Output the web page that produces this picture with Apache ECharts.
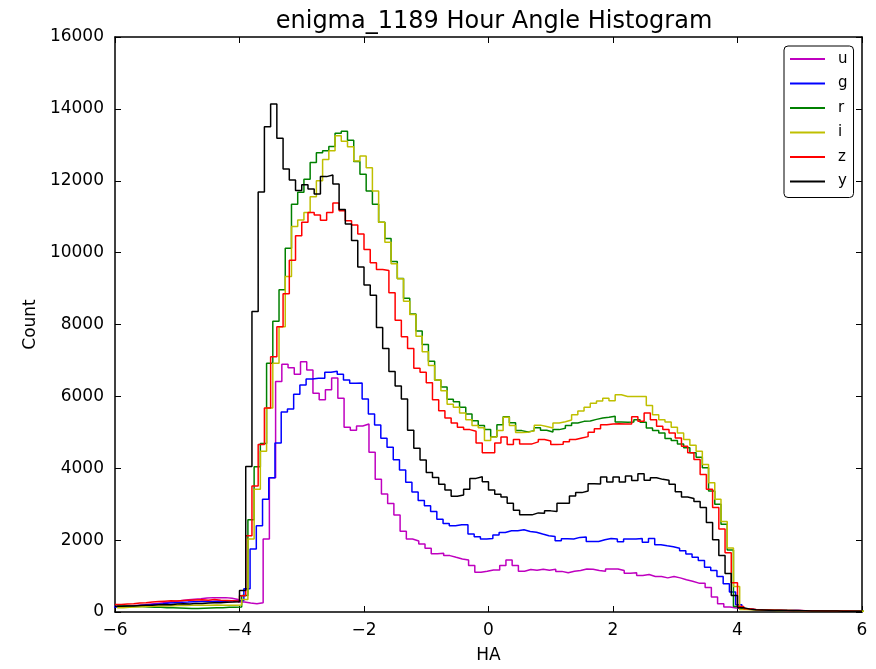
<!DOCTYPE html>
<html>
<head>
<meta charset="utf-8">
<script src="https://cdn.jsdelivr.net/npm/echarts@6/dist/echarts.min.js"></script>
<style>
html,body{margin:0;padding:0;background:#fff;}
#chart{width:876px;height:669px;}
</style>
</head>
<body>
<div id="chart"></div>
<script>
// Histogram bins: 120 bins of width 0.1 per filter; each filter has its own first edge
const BIN_WIDTH = 0.1;
const uStart = -6.02;
const gStart = -6.03;
const rStart = -5.965;
const iStart = -5.965;
const zStart = -6.0;
const yStart = -6.0;

const xTicks = [-6, -4, -2, 0, 2, 4, 6];
const yTicks = [0, 2000, 4000, 6000, 8000, 10000, 12000, 14000, 16000];

const uCounts = [150,160,175,190,200,220,240,260,280,300,320,340,355,370,390,400,395,400,385,350,
280,250,230,260,2030,3737,6412,6892,6800,6616,
6966,6736,6090,5905,6182,6510,5951,5139,5060,5176,
5231,4443,3691,3285,3017,2700,2250,2030,1975,1890,
1776,1624,1633,1569,1522,1476,1448,1292,1107,1135,
1171,1171,1292,1448,1292,1135,1181,1160,1190,1160,
1190,1130,1093,1135,1153,1199,1190,1153,1135,1199,
1199,1153,1079,1090,1015,1042,987,987,950,987,
950,895,858,803,800,680,420,230,140,110,
90,75,65,60,55,50,48,45,42,40,38,35,33,30,28,27,25,23,22,20];

const gCounts = [140,150,160,175,190,200,215,230,250,260,270,277,285,290,300,295,305,300,310,305,
323,646,1753,2399,3137,3737,4706,5564,5647,6062,
6320,6486,6505,6505,6671,6700,6616,6458,6366,6375,
5925,5508,5203,4835,4586,4235,3950,3610,3340,3100,
2960,2800,2583,2464,2399,2427,2427,2168,2095,2030,
2048,2141,2214,2260,2260,2288,2242,2220,2168,2122,
2100,1984,2040,2030,2076,2085,1960,1960,2010,2048,
2030,1956,2030,2030,2048,1938,2048,1873,1845,1818,
1772,1707,1615,1522,1430,1246,1153,987,784,560,
200,90,70,60,55,50,48,45,42,40,38,35,33,30,28,27,25,23,22,20];

const rCounts = [170,160,150,150,140,135,130,120,115,110,105,100,100,105,110,115,120,130,135,140,
461,2565,4041,4687,6920,8092,8968,10122,11349,11680,
12041,12510,12779,12835,12955,13320,13379,13130,12535,12179,
11718,11349,10842,10390,9753,9280,8730,8290,7820,7446,
6980,6458,6260,5920,5850,5700,5510,5324,5190,5075,
4880,5213,5435,5268,5047,5010,5047,5130,5060,5010,
5075,5110,5190,5259,5305,5315,5360,5398,5416,5444,
5287,5282,5287,5351,5277,5121,5047,4982,4826,4770,
4678,4567,4429,4309,4014,3368,2999,2445,1725,150,
90,70,60,55,50,48,45,42,40,38,35,33,30,30,28,25,25,22,20,20];

const iCounts = [120,130,140,145,150,160,165,170,175,180,180,185,190,185,190,195,190,185,190,195,
350,2030,3414,4475,5674,6920,7935,9337,10730,10906,
11118,11555,12000,12594,12835,13250,13102,12945,12548,12687,
12364,11718,10842,10288,9688,9273,8650,8276,7670,7243,
6856,6458,6160,5780,5700,5536,5351,5190,5130,4775,
4867,5050,5420,5190,4996,5005,5040,5200,5160,5120,
5259,5296,5342,5490,5590,5697,5808,5868,5951,5877,
6043,5997,5997,5997,5997,5748,5490,5351,5287,5139,
4982,4798,4641,4475,4106,3598,3137,2519,1781,711,
70,60,55,50,48,45,42,40,38,35,33,30,30,28,25,25,22,22,20,20];

const zCounts = [210,220,230,250,260,280,290,300,310,305,320,330,335,340,330,345,330,320,310,300,
450,2122,3506,4660,5674,7105,7935,8858,9790,10472,
10842,11120,11050,10900,11118,11380,11164,10888,10768,10518,
10085,9716,9531,9504,8885,8120,7659,7335,6782,6671,
6380,5905,5600,5398,5259,5139,5075,5029,4706,4429,
4429,4706,4872,4660,4798,4678,4678,4733,4798,4760,
4660,4670,4740,4798,4844,4880,5000,5100,5213,5231,
5240,5231,5231,5430,5305,5536,5351,5167,5075,4982,
4844,4613,4429,4244,3829,3414,2906,2307,1650,812,
150,90,70,60,55,50,48,45,42,40,38,35,33,30,30,28,25,25,22,20];

const yCounts = [160,170,165,180,190,185,200,210,205,220,230,225,240,235,250,255,260,270,275,285,
600,4050,8360,11690,13500,14135,13180,12330,12020,11730,
11890,11770,11630,12115,12160,11910,11200,10795,10334,9597,
9100,8811,7917,7335,6690,6292,5924,5056,4560,4230,
3885,3745,3552,3396,3220,3257,3414,3718,3765,3626,
3396,3275,3202,3026,2832,2703,2703,2758,2750,2814,
2795,3026,3026,3225,3322,3368,3571,3560,3755,3617,
3755,3617,3783,3660,3848,3663,3737,3691,3663,3552,
3349,3202,3156,3072,2906,2491,2011,1575,1070,461,
120,80,60,55,50,45,45,40,38,35,35,30,30,28,25,25,22,20,20,18];

const seriesNames = ['u', 'g', 'r', 'i', 'z', 'y'];
const seriesColors = ['#bf00bf', '#0000ff', '#008000', '#bfbf00', '#ff0000', '#000000'];

function steps(start, counts) {
  const pts = [];
  for (let i = 0; i < counts.length; i++) {
    pts.push([+(start + i * BIN_WIDTH).toFixed(4), counts[i]]);
  }
  pts.push([+(start + counts.length * BIN_WIDTH).toFixed(4), counts[counts.length - 1]]);
  return pts;
}

const allData = [
  steps(uStart, uCounts), steps(gStart, gCounts), steps(rStart, rCounts),
  steps(iStart, iCounts), steps(zStart, zCounts), steps(yStart, yCounts)
];

const FONT = 'DejaVu Sans';
const minus = v => String(v).replace('-', '\u2212');
const plain = v => String(v);

const baseX = {
  type: 'value', min: xTicks[0], max: xTicks[xTicks.length - 1], interval: 2,
  splitLine: { show: false },
  axisLine: { show: true, onZero: false, lineStyle: { color: '#000', width: 1.5 } },
  axisTick: { show: true, inside: true, length: 6, lineStyle: { color: '#000' } }
};
const baseY = {
  type: 'value', min: yTicks[0], max: yTicks[yTicks.length - 1], interval: 2000,
  splitLine: { show: false },
  axisLine: { show: true, onZero: false, lineStyle: { color: '#000', width: 1.5 } },
  axisTick: { show: true, inside: true, length: 6, lineStyle: { color: '#000' } }
};

const chart = echarts.init(document.getElementById('chart'), null, { renderer: 'canvas' });
chart.setOption({
  backgroundColor: '#fff',
  animation: false,
  title: {
    text: 'enigma_1189 Hour Angle Histogram',
    left: 489, top: 5, textAlign: 'center',
    textStyle: { fontFamily: FONT, fontSize: 24, fontWeight: 'normal', color: '#000' }
  },
  grid: { left: 115, right: 14, top: 37, bottom: 54, containLabel: false },
  legend: {
    orient: 'vertical', left: 784, top: 46,
    data: seriesNames.map((n, k) => ({ name: n, icon: 'rect', itemStyle: { color: seriesColors[k] } })),
    itemWidth: 35, itemHeight: 2, itemGap: 8.5,
    padding: [5, 6, 8, 6],
    borderColor: '#000', borderWidth: 1, borderRadius: 4,
    textStyle: { fontFamily: FONT, fontSize: 15, color: '#000', lineHeight: 16, padding: [0, 0, 0, 8] }
  },
  xAxis: [
    Object.assign({}, baseX, {
      position: 'bottom',
      name: 'HA', nameLocation: 'middle', nameGap: 35,
      nameTextStyle: { fontFamily: FONT, fontSize: 17, color: '#000' },
      axisLabel: { fontFamily: FONT, fontSize: 17, color: '#000', margin: 10, formatter: minus }
    }),
    Object.assign({}, baseX, { position: 'top', axisLabel: { show: false } })
  ],
  yAxis: [
    Object.assign({}, baseY, {
      position: 'left',
      name: 'Count', nameLocation: 'middle', nameGap: 72,
      nameTextStyle: { fontFamily: FONT, fontSize: 17, color: '#000' },
      axisLabel: { fontFamily: FONT, fontSize: 17, color: '#000', margin: 11, formatter: plain }
    }),
    Object.assign({}, baseY, { position: 'right', axisLabel: { show: false } })
  ],
  series: seriesNames.map((n, k) => ({
    name: n, type: 'line', step: 'end', data: allData[k],
    xAxisIndex: 0, yAxisIndex: 0,
    showSymbol: false, symbol: 'none', clip: true,
    lineStyle: { color: seriesColors[k], width: 1.5 },
    itemStyle: { color: seriesColors[k] },
    z: 2 + k
  }))
});
</script>
</body>
</html>
